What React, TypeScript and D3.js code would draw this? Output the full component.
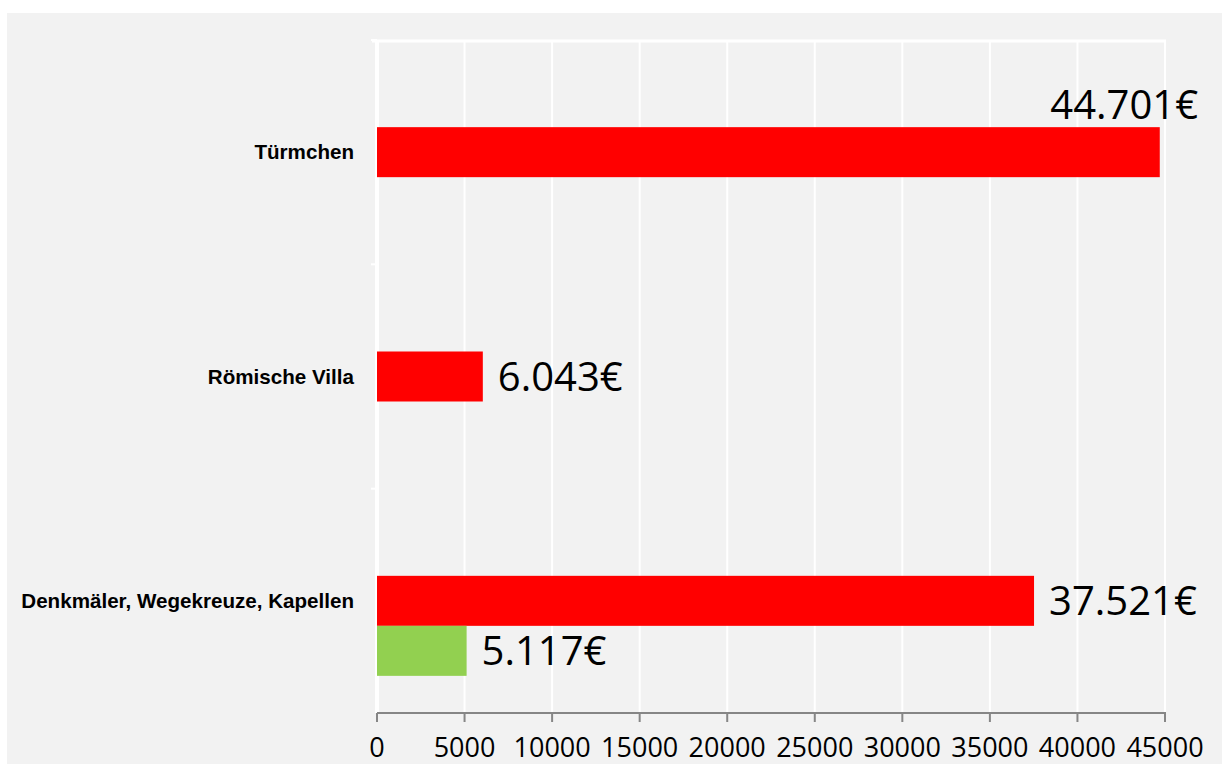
import React from "react";
import * as d3 from "d3";

const categories = ["Türmchen", "Römische Villa", "Denkmäler, Wegekreuze, Kapellen"];
const seriesKeys = ["leer", "rot", "grün"];
const valuesRed = [44701, 6043, 37521];
const valuesGreen = [0, 0, 5117];
const valueLabelsRed = ["44.701€", "6.043€", "37.521€"];
const valueLabelsGreen = ["", "", "5.117€"];
const xTicks = [0, 5000, 10000, 15000, 20000, 25000, 30000, 35000, 40000, 45000];

const W = 1222;
const H = 764;
const plotLeft = 377;
const plotRight = 1165;
const plotTop = 40;
const plotBottom = 713;

export default function App() {
  const x = d3.scaleLinear().domain([0, 45000]).range([plotLeft, plotRight]);
  const y = d3.scaleBand().domain(categories).range([plotTop, plotBottom]).padding(0);
  const inner = d3
    .scaleBand()
    .domain(seriesKeys)
    .range([0, y.bandwidth()])
    .paddingInner(0)
    .paddingOuter(0.743);
  const bh = inner.bandwidth();
  const colors: Record<string, string> = { rot: "#FF0000", "grün": "#92D050" };
  const labelFont = "'Open Sans', sans-serif";

  const bars: { cat: string; key: string; v: number; label: string }[] = [];
  categories.forEach((c, i) => {
    bars.push({ cat: c, key: "rot", v: valuesRed[i], label: valueLabelsRed[i] });
    bars.push({ cat: c, key: "grün", v: valuesGreen[i], label: valueLabelsGreen[i] });
  });

  const estWidth = (s: string) => s.length * 0.53 * 40;

  return (
    <svg width={W} height={H} style={{ position: "absolute", left: 0, top: 0 }}>
      <rect x={7} y={13} width={W - 7} height={H - 13} fill="#F2F2F2" />
      {/* gridlines */}
      {xTicks.map((t) => (
        <line key={"g" + t} x1={x(t)} x2={x(t)} y1={plotTop} y2={plotBottom} stroke="#FFFFFF" strokeWidth={2} />
      ))}
      {/* top border */}
      <line x1={plotLeft - 5} x2={plotRight + 1} y1={plotTop + 1} y2={plotTop + 1} stroke="#FFFFFF" strokeWidth={3} />
      {/* category axis */}
      <line x1={plotLeft} x2={plotLeft} y1={plotTop} y2={plotBottom} stroke="#FFFFFF" strokeWidth={4} />
      {categories.map((c) => (
        <line key={"ct" + c} x1={plotLeft - 6} x2={plotLeft} y1={y(c)!} y2={y(c)!} stroke="#FFFFFF" strokeWidth={2} />
      ))}
      {/* bars */}
      {bars
        .filter((b) => b.v > 0)
        .map((b) => (
          <rect
            key={b.cat + b.key}
            x={x(0)}
            y={y(b.cat)! + inner(b.key)!}
            width={x(b.v) - x(0)}
            height={bh}
            fill={colors[b.key]}
          />
        ))}
      {/* value axis */}
      <line x1={plotLeft} x2={plotRight + 1} y1={plotBottom} y2={plotBottom} stroke="#868686" strokeWidth={2} />
      {xTicks.map((t) => (
        <g key={"t" + t}>
          <line x1={x(t)} x2={x(t)} y1={plotBottom} y2={plotBottom + 9} stroke="#868686" strokeWidth={2} />
          <text x={x(t)} y={757} textAnchor="middle" fontFamily={labelFont} fontSize={27} fill="#000">
            {t}
          </text>
        </g>
      ))}
      {/* category labels */}
      {categories.map((c) => (
        <text
          key={"cl" + c}
          x={plotLeft - 23}
          y={y(c)! + y.bandwidth() / 2 + 7}
          textAnchor="end"
          fontFamily="'Liberation Sans', Arial, sans-serif"
          fontWeight="bold"
          fontSize={20.6}
          fill="#000"
        >
          {c}
        </text>
      ))}
      {/* value labels */}
      {bars
        .filter((b) => b.v > 0)
        .map((b) => {
          const by = y(b.cat)! + inner(b.key)!;
          let lx = x(b.v) + 15;
          let ly = by + bh / 2 + 14;
          let anchor: "start" | "end" = "start";
          if (lx + estWidth(b.label) > W) {
            lx = W - 24;
            ly = by - 8;
            anchor = "end";
          }
          return (
            <text key={"vl" + b.cat + b.key} x={lx} y={ly} textAnchor={anchor} fontFamily={labelFont} fontSize={40} fill="#000">
              {b.label}
            </text>
          );
        })}
    </svg>
  );
}
